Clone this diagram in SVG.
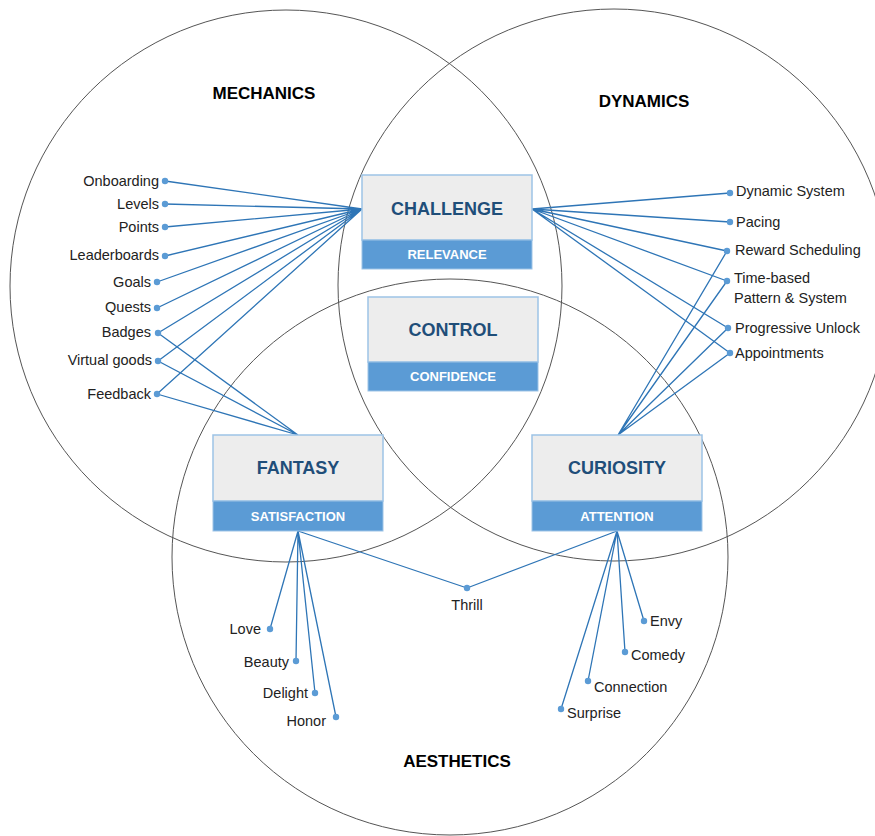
<svg xmlns="http://www.w3.org/2000/svg" width="875" height="836" viewBox="0 0 875 836">
<style>
.circ{fill:none;stroke:#555;stroke-width:1}
.head{font-family:"Liberation Sans",Arial,sans-serif;font-weight:bold;font-size:17px;fill:#000;text-anchor:middle}
.top{fill:#EDEDED;stroke:#9DC3E6;stroke-width:1.5}
.bot{fill:#5B9BD5;stroke:#9DC3E6;stroke-width:1}
.t1{font-family:"Liberation Sans",Arial,sans-serif;font-weight:bold;font-size:18px;fill:#1F4E79;text-anchor:middle}
.t2{font-family:"Liberation Sans",Arial,sans-serif;font-weight:bold;font-size:13px;fill:#fff;text-anchor:middle}
.lbl{font-family:"Liberation Sans",Arial,sans-serif;font-size:14.5px;fill:#222}
.r{text-anchor:end}
.m{text-anchor:middle}
.ln{stroke:#2E75B6;stroke-width:1.3;fill:none}
.dot{fill:#5B9BD5}
</style>
<rect width="875" height="836" fill="#fff"/>
<g id="circles">
<circle class="circ" cx="286" cy="286" r="276"/>
<circle class="circ" cx="614" cy="285" r="276"/>
<circle class="circ" cx="450" cy="557" r="278"/>
</g>
<g id="headings">
<text class="head" x="264" y="99">MECHANICS</text>
<text class="head" x="644" y="107">DYNAMICS</text>
<text class="head" x="457" y="767">AESTHETICS</text>
</g>
<g id="connectors">
<path class="ln" d="M165,181L362,209M165,204L362,209M165,227L362,209M165,256L362,209M157,282L362,209M157,308L362,209M158,333L362,209M158,361L362,209M157,394L362,209"/>
<path class="ln" d="M158,333L298,435M158,361L298,435M157,394L298,435"/>
<path class="ln" d="M532,209L730,193M532,209L730,222M532,209L727,251M532,209L727,281M532,209L728,328M532,209L730,353"/>
<path class="ln" d="M618,435L727,251M618,435L727,281M618,435L728,328M618,435L730,353"/>
<path class="ln" d="M298,531L270,629M298,531L296,661M298,531L315,693M298,531L336,717M298,531L467,588"/>
<path class="ln" d="M617,531L644,621M617,531L625,652M617,531L588,681M617,531L561,709M617,531L467,588"/>
</g>
<g id="dots">
<circle class="dot" cx="165" cy="181" r="3.2"/><circle class="dot" cx="165" cy="204" r="3.2"/><circle class="dot" cx="165" cy="227" r="3.2"/><circle class="dot" cx="165" cy="256" r="3.2"/><circle class="dot" cx="157" cy="282" r="3.2"/><circle class="dot" cx="157" cy="308" r="3.2"/><circle class="dot" cx="158" cy="333" r="3.2"/><circle class="dot" cx="158" cy="361" r="3.2"/><circle class="dot" cx="157" cy="394" r="3.2"/>
<circle class="dot" cx="730" cy="193" r="3.2"/><circle class="dot" cx="730" cy="222" r="3.2"/><circle class="dot" cx="727" cy="251" r="3.2"/><circle class="dot" cx="727" cy="281" r="3.2"/><circle class="dot" cx="728" cy="328" r="3.2"/><circle class="dot" cx="730" cy="353" r="3.2"/>
<circle class="dot" cx="270" cy="629" r="3.2"/><circle class="dot" cx="296" cy="661" r="3.2"/><circle class="dot" cx="315" cy="693" r="3.2"/><circle class="dot" cx="336" cy="717" r="3.2"/>
<circle class="dot" cx="467" cy="588" r="3.2"/>
<circle class="dot" cx="644" cy="621" r="3.2"/><circle class="dot" cx="625" cy="652" r="3.2"/><circle class="dot" cx="588" cy="681" r="3.2"/><circle class="dot" cx="561" cy="709" r="3.2"/>
</g>
<g id="challenge">
<rect class="top" x="362" y="175" width="170" height="65"/>
<rect class="bot" x="362" y="240" width="170" height="29"/>
<text class="t1" x="447" y="215">CHALLENGE</text>
<text class="t2" x="447" y="259">RELEVANCE</text>
</g>
<g id="control">
<rect class="top" x="368" y="297" width="170" height="65"/>
<rect class="bot" x="368" y="362" width="170" height="29"/>
<text class="t1" x="453" y="336">CONTROL</text>
<text class="t2" x="453" y="381">CONFIDENCE</text>
</g>
<g id="fantasy">
<rect class="top" x="213" y="435" width="170" height="66"/>
<rect class="bot" x="213" y="501" width="170" height="30"/>
<text class="t1" x="298" y="474">FANTASY</text>
<text class="t2" x="298" y="521">SATISFACTION</text>
</g>
<g id="curiosity">
<rect class="top" x="532" y="435" width="170" height="66"/>
<rect class="bot" x="532" y="501" width="170" height="30"/>
<text class="t1" x="617" y="474">CURIOSITY</text>
<text class="t2" x="617" y="521">ATTENTION</text>
</g>
<g id="mechanics-labels">
<text class="lbl r" x="159" y="186">Onboarding</text>
<text class="lbl r" x="159" y="209">Levels</text>
<text class="lbl r" x="159" y="232">Points</text>
<text class="lbl r" x="159" y="260">Leaderboards</text>
<text class="lbl r" x="151" y="287">Goals</text>
<text class="lbl r" x="151" y="312">Quests</text>
<text class="lbl r" x="151" y="337">Badges</text>
<text class="lbl r" x="152" y="365">Virtual goods</text>
<text class="lbl r" x="151" y="399">Feedback</text>
</g>
<g id="dynamics-labels">
<text class="lbl" x="736" y="196">Dynamic System</text>
<text class="lbl" x="736" y="227">Pacing</text>
<text class="lbl" x="735" y="255">Reward Scheduling</text>
<text class="lbl" x="734" y="283">Time-based</text>
<text class="lbl" x="734" y="303">Pattern &amp; System</text>
<text class="lbl" x="735" y="333">Progressive Unlock</text>
<text class="lbl" x="735" y="358">Appointments</text>
</g>
<g id="aesthetics-labels">
<text class="lbl r" x="261" y="634">Love</text>
<text class="lbl r" x="289" y="667">Beauty</text>
<text class="lbl r" x="308" y="698">Delight</text>
<text class="lbl r" x="326" y="726">Honor</text>
<text class="lbl m" x="467" y="610">Thrill</text>
<text class="lbl" x="650" y="626">Envy</text>
<text class="lbl" x="631" y="660">Comedy</text>
<text class="lbl" x="594" y="692">Connection</text>
<text class="lbl" x="567" y="718">Surprise</text>
</g>
</svg>
